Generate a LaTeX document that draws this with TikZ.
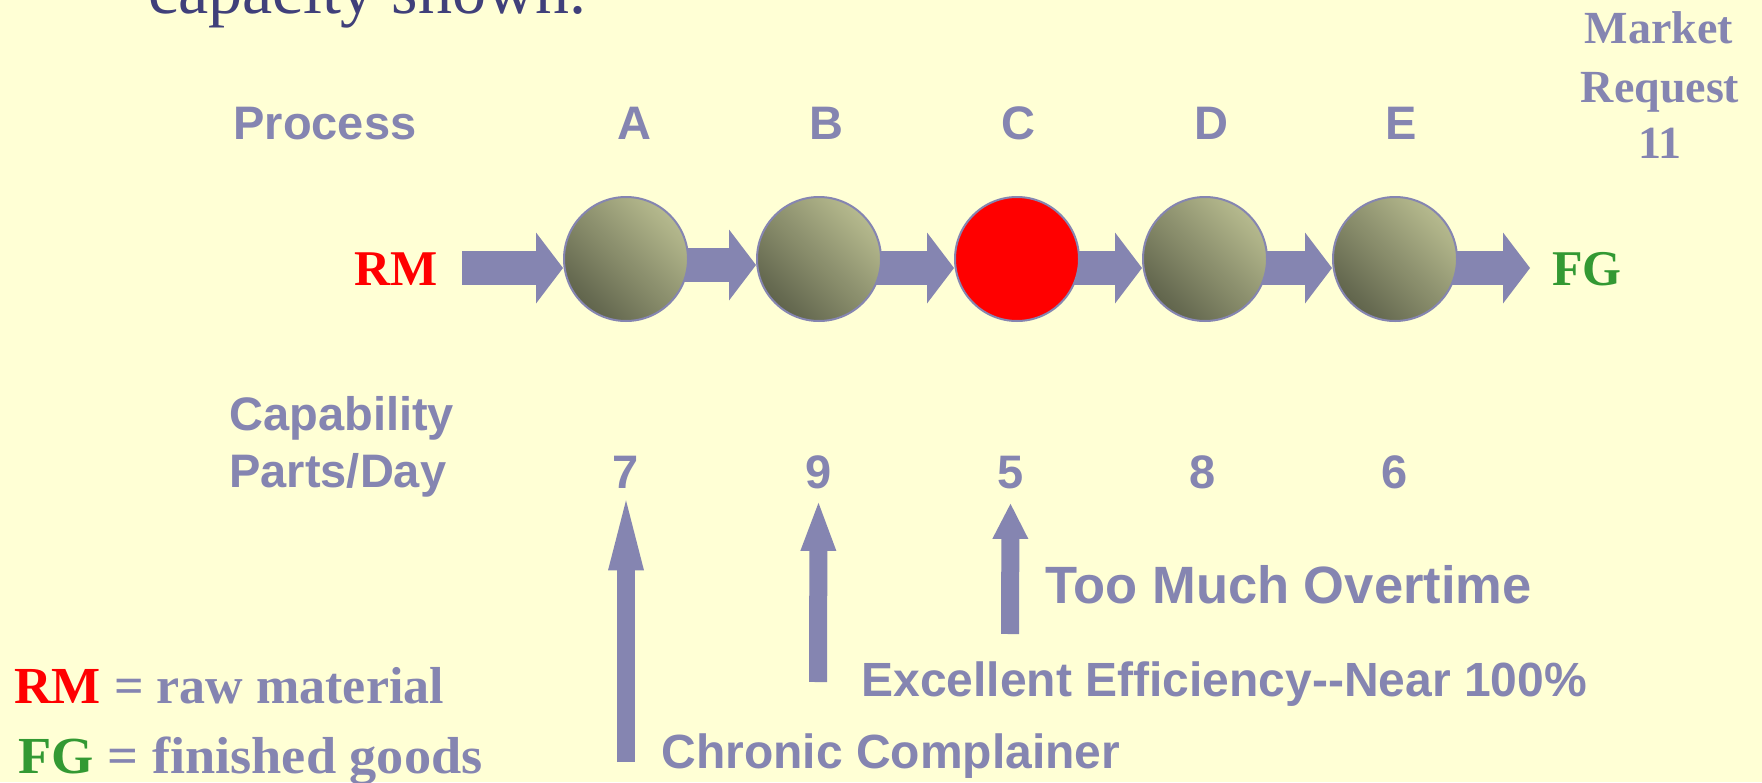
\documentclass[tikz,border=0pt]{standalone}
\usepackage{fontspec}
\setmainfont{Liberation Serif}
\setsansfont{Liberation Sans}
\usetikzlibrary{arrows.meta}
\definecolor{bgc}{RGB}{255,255,213}
\definecolor{lav}{RGB}{133,133,177}
\definecolor{navy}{RGB}{64,64,122}
\definecolor{ballhi}{RGB}{182,186,142}
\definecolor{balllo}{RGB}{96,100,76}
\definecolor{fggreen}{RGB}{51,153,51}
\pgfdeclarelayer{bg}
\pgfdeclarelayer{arr}
\pgfsetlayers{bg,arr,main}
\begin{document}
\begin{tikzpicture}[x=0.5pt,y=-0.5pt,
  hdr/.style={font=\sffamily\bfseries\fontsize{23.5}{28}\selectfont, text=lav, inner sep=0pt},
  lbl/.style={font=\sffamily\bfseries\fontsize{24}{28}\selectfont, text=lav, inner sep=0pt},
  lblbig/.style={font=\sffamily\bfseries\fontsize{26.25}{30}\selectfont, text=lav, inner sep=0pt},
  serb/.style={font=\rmfamily\bfseries\fontsize{25}{30}\selectfont, inner sep=0pt},
  mk/.style={font=\rmfamily\bfseries\fontsize{23}{28}\selectfont, text=lav, inner sep=0pt},
  legendtxt/.style={font=\rmfamily\bfseries\fontsize{26}{30}\selectfont, text=lav, inner sep=0pt},
  ball/.style={circle, inner sep=0pt, minimum size=62pt, draw=lav, line width=1pt,
    top color=ballhi, bottom color=balllo, shading angle=-45},
  hotball/.style={circle, inner sep=0pt, minimum size=62pt, draw=lav, line width=1pt, fill=red},
  flow/.style={draw=lav, line width=17pt, -{Triangle[length=13.5pt,width=35.5pt,line width=0pt]}},
  upar/.style={draw=lav, line width=9pt, -{Triangle[length=#1,width=18pt,line width=0pt]}}
]
\useasboundingbox (0,0) rectangle (1762,782);
\begin{pgfonlayer}{bg}
\fill[bgc] (0,0) rectangle (1762,782);
\end{pgfonlayer}

% title fragment
\node[font=\rmfamily\fontsize{34}{40}\selectfont, text=navy, anchor=base west, inner sep=0pt] (title) at (148,13) {capacity shown.};

% market request
\node[mk, anchor=base] (mk1) at (1659,43) {Market};
\node[mk, anchor=base] (mk2) at (1660,102) {Request};
\node[mk, anchor=base] (mk3) at (1660,158) {11};

% headers
\node[hdr, anchor=base west] (process) at (233,139) {Process};
\node[hdr, anchor=base] (lA) at (634,139) {A};
\node[hdr, anchor=base] (lB) at (826,139) {B};
\node[hdr, anchor=base] (lC) at (1018,139) {C};
\node[hdr, anchor=base] (lD) at (1211,139) {D};
\node[hdr, anchor=base] (lE) at (1401,139) {E};

% circles
\node[ball] (cA) at (626,259) {};
\node[ball] (cB) at (819,259) {};
\node[hotball] (cC) at (1017,259) {};
\node[ball] (cD) at (1205,259) {};
\node[ball] (cE) at (1395,259) {};

% RM / FG
\node[serb, text=red, anchor=base west] (rm) at (354,285) {RM};
\node[serb, text=fggreen, anchor=base west] (fg) at (1552,285) {FG};
\coordinate (rmstart) at (462,268);
\coordinate (fgend) at (1530,268);

\begin{pgfonlayer}{arr}
\draw[flow] (rmstart) -- ([yshift=-4.5pt]cA.west);
\draw[flow] ([yshift=-3pt]cA.center) -- ([yshift=-3pt]cB.west);
\draw[flow] ([yshift=-4.5pt]cB.center) -- ([yshift=-4.5pt]cC.west);
\draw[flow] ([yshift=-4.5pt]cC.center) -- ([yshift=-4.5pt]cD.west);
\draw[flow] ([yshift=-4.5pt]cD.center) -- ([yshift=-4.5pt]cE.west);
\draw[flow] ([yshift=-4.5pt]cE.center) -- (fgend);
\end{pgfonlayer}

% capability
\node[hdr, anchor=base west] (capab) at (229,430) {Capability};
\node[hdr, anchor=base west] (parts) at (229,487) {Parts/Day};
\node[hdr, anchor=base] (n7) at (626,488) {7};
\node[hdr, anchor=base] (n9) at (818.5,488) {9};
\node[hdr, anchor=base] (n5) at (1010.5,488) {5};
\node[hdr, anchor=base] (n8) at (1202.5,488) {8};
\node[hdr, anchor=base] (n6) at (1394.5,488) {6};

% up arrows
\coordinate (bA) at (626,762);
\coordinate (bB) at (818,682);
\coordinate (bC) at (1010,634);
\draw[upar=35pt] (bA) -- ([yshift=-6pt]n7.south);
\draw[upar=24pt] (bB) -- ([yshift=-7pt]n9.south);
\draw[upar=17.5pt] (bC) -- ([yshift=-7.5pt]n5.south);

% labels
\node[lblbig, anchor=base west] (tmo) at (1045,603) {Too Much Overtime};
\node[lbl, anchor=base west] (eff) at (861,696) {Excellent Efficiency\mbox{-}\mbox{-}Near 100\%};
\node[lbl, anchor=base west] (chr) at (661,768) {Chronic Complainer};

% legend
\node[legendtxt, anchor=base west] (lg1) at (14,703) {\textcolor{red}{RM} = raw material};
\node[legendtxt, anchor=base west] (lg2) at (18,773) {\scalebox{1.045}[1]{\textcolor{fggreen}{FG} = finished goods}};
\end{tikzpicture}
\end{document}
